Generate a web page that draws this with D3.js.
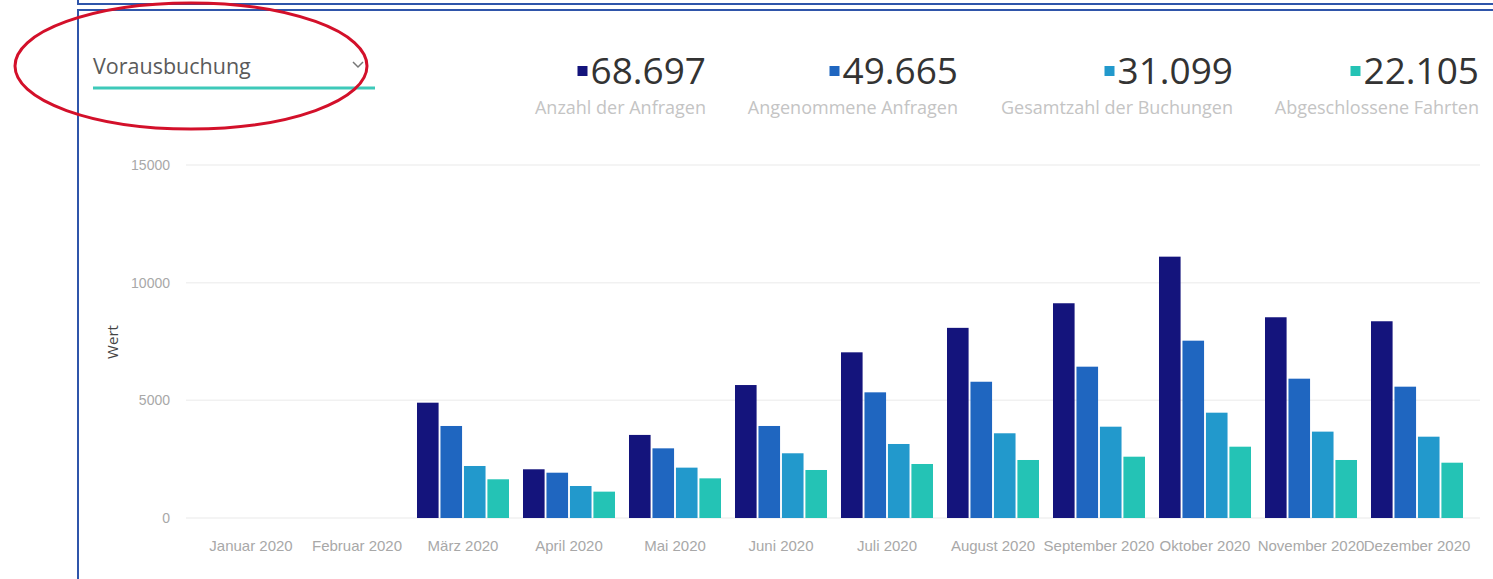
<!DOCTYPE html>
<html lang="de">
<head>
<meta charset="UTF-8">
<title>Vorausbuchung</title>
<script src="https://d3js.org/d3.v7.min.js"></script>
<style>
  body { margin: 0; background: #fff; font-family: "Open Sans", sans-serif; }
  .grid line { stroke: #f1f1f1; stroke-width: 1.5px; }
  .axis text { fill: #a8a8a8; }
  .kpi-num { fill: #333; font-size: 37px; }
  .kpi-lbl { fill: #c4c4c4; font-size: 18px; }
</style>
</head>
<body>
<script>

// chart data
var months = ["Januar 2020", "Februar 2020", "März 2020", "April 2020", "Mai 2020", "Juni 2020",
              "Juli 2020", "August 2020", "September 2020", "Oktober 2020", "November 2020", "Dezember 2020"];
var seriesNames = ["Anzahl der Anfragen", "Angenommene Anfragen", "Gesamtzahl der Buchungen", "Abgeschlossene Fahrten"];
var totals = ["68.697", "49.665", "31.099", "22.105"];
var anfragen     = [0, 0, 4900, 2070, 3530, 5650, 7040, 8080, 9125, 11105, 8530, 8360];
var angenommen   = [0, 0, 3910, 1925, 2960, 3910, 5340, 5790, 6430, 7535, 5920, 5580];
var buchungen    = [0, 0, 2210, 1360, 2140, 2750, 3145, 3600, 3880, 4475, 3670, 3455];
var abgeschlossen = [0, 0, 1645, 1120, 1685, 2040, 2295, 2465, 2605, 3030, 2465, 2350];
var yTicks = [0, 5000, 10000, 15000];
var colors = ["#14147c", "#1f66c0", "#2299cc", "#24c3b5"];

var allSeries = [anfragen, angenommen, buchungen, abgeschlossen];
var data = months.map(function(m, i) {
  return { month: m, values: allSeries.map(function(s) { return s[i]; }) };
});

var W = 1493, H = 579;
var svg = d3.select("body").append("svg")
    .attr("width", W)
    .attr("height", H);

// frames of the screenshot
svg.append("rect")
    .attr("x", 78).attr("y", -10).attr("width", W).attr("height", 14)
    .attr("fill", "none").attr("stroke", "#2f55aa").attr("stroke-width", 2);
svg.append("rect")
    .attr("x", 78).attr("y", 10).attr("width", W).attr("height", H + 10)
    .attr("fill", "none").attr("stroke", "#2f55aa").attr("stroke-width", 2);

var x = d3.scaleBand()
    .domain(months)
    .range([198, 1470])
    .paddingInner(0.132)
    .paddingOuter(0.066);

var x1 = d3.scaleBand()
    .domain(d3.range(4))
    .range([0, x.bandwidth()])
    .paddingInner(0.08);

var y = d3.scaleLinear()
    .domain([0, 15000])
    .range([518, 165]);

// gridlines
svg.append("g")
    .attr("class", "grid")
    .selectAll("line")
    .data(yTicks)
    .enter().append("line")
    .attr("x1", 186).attr("x2", 1480)
    .attr("y1", function(d) { return y(d); })
    .attr("y2", function(d) { return y(d); });

// y axis
var yAxis = svg.append("g")
    .attr("class", "axis")
    .attr("transform", "translate(176,0)")
    .call(d3.axisLeft(y).tickValues(yTicks).tickFormat(d3.format("d")).tickSize(0).tickPadding(6));
yAxis.select(".domain").remove();
yAxis.selectAll("text").style("font-size", "14px");

svg.append("text")
    .attr("transform", "translate(118,342) rotate(-90)")
    .attr("text-anchor", "middle")
    .style("font-size", "15px")
    .style("fill", "#444")
    .text("Wert");

// x axis
var xAxis = svg.append("g")
    .attr("class", "axis")
    .attr("transform", "translate(0,534)")
    .call(d3.axisBottom(x).tickSize(0).tickPadding(6));
xAxis.select(".domain").remove();
xAxis.selectAll("text").style("font-size", "15px");

// bars
var groups = svg.append("g").selectAll("g")
    .data(data)
    .enter().append("g")
    .attr("transform", function(d) { return "translate(" + x(d.month) + ",0)"; });

groups.selectAll("rect")
    .data(function(d) { return d.values; })
    .enter().append("rect")
    .filter(function(v) { return v > 0; })
    .attr("x", function(v, i) { return x1(i); })
    .attr("width", x1.bandwidth())
    .attr("y", function(v) { return y(v); })
    .attr("height", function(v) { return y(0) - y(v); })
    .attr("fill", function(v, i) { return colors[i]; });

// KPI headers
var kpiRight = [706, 958, 1233, 1479];
var kpi = svg.append("g").selectAll("g")
    .data(seriesNames)
    .enter().append("g");

kpi.append("text")
    .attr("class", "kpi-num")
    .attr("x", function(d, i) { return kpiRight[i]; })
    .attr("y", 84)
    .attr("text-anchor", "end")
    .text(function(d, i) { return totals[i]; });

kpi.append("rect")
    .attr("width", 10).attr("height", 10)
    .attr("y", 66)
    .attr("fill", function(d, i) { return colors[i]; })
    .attr("x", function(d, i) {
      var w = this.parentNode.querySelector("text").getComputedTextLength();
      return kpiRight[i] - w - 13;
    });

kpi.append("text")
    .attr("class", "kpi-lbl")
    .attr("x", function(d, i) { return kpiRight[i]; })
    .attr("y", 114)
    .attr("text-anchor", "end")
    .text(function(d) { return d; });

// dropdown
svg.append("text")
    .attr("x", 93).attr("y", 74)
    .style("font-size", "21.5px")
    .style("fill", "#5a5a5a")
    .text("Vorausbuchung");
svg.append("path")
    .attr("d", "M353,62 L358,67 L363,62")
    .attr("fill", "none").attr("stroke", "#777").attr("stroke-width", 1.5);
svg.append("line")
    .attr("x1", 93).attr("x2", 375).attr("y1", 88).attr("y2", 88)
    .attr("stroke", "#3ec9b9").attr("stroke-width", 3);

// red highlight ellipse
svg.append("ellipse")
    .attr("cx", 191).attr("cy", 66)
    .attr("rx", 176).attr("ry", 63)
    .attr("fill", "none").attr("stroke", "#d3102a").attr("stroke-width", 3);

</script>
</body>
</html>
